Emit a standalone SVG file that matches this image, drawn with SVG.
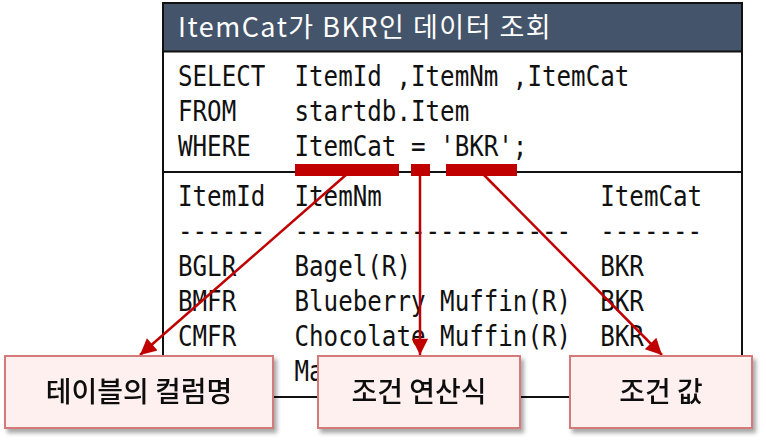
<svg xmlns="http://www.w3.org/2000/svg" width="766" height="442" viewBox="0 0 766 442">
<style>
.mono{font-family:"DejaVu Sans Mono","Liberation Mono",monospace;font-size:28px;fill:#111;white-space:pre}
.title{font-family:"Noto Sans CJK KR","Noto Sans",sans-serif;font-size:27px;letter-spacing:1.5px;fill:#fff}
.lbl{font-family:"Noto Sans CJK KR","Noto Sans",sans-serif;font-size:28px;font-weight:500;fill:#111;text-anchor:middle}
.box{fill:#fff0f0;stroke:#d57a7a;stroke-width:2}
.bar{fill:#c00000}
.arr{stroke:#c00000;stroke-width:2.5;fill:none;marker-end:url(#ah)}
</style>
<defs>
<marker id="ah" viewBox="0 0 10 10" refX="10" refY="5" markerWidth="8" markerHeight="6.5" markerUnits="strokeWidth" orient="auto">
<path d="M0,0 L10,5 L0,10 z" fill="#c00000"/>
</marker>
<filter id="sh" x="-10%" y="-20%" width="130%" height="150%">
<feDropShadow dx="3" dy="4" stdDeviation="2" flood-color="#000" flood-opacity="0.35"/>
</filter>
</defs>
<g id="panel">
<rect x="163" y="3" width="579" height="394" fill="#fff" stroke="#111" stroke-width="2"/>
<rect x="164" y="4" width="577" height="47" fill="#44546a"/>
<line x1="163" y1="51.5" x2="742" y2="51.5" stroke="#111" stroke-width="2"/>
<line x1="163" y1="172" x2="742" y2="172" stroke="#111" stroke-width="2"/>
<text class="title" x="178" y="37">ItemCat가 BKR인 데이터 조회</text>
<g transform="translate(178,0) scale(0.864,1)">
<text class="mono" x="0" y="86" xml:space="preserve">SELECT  ItemId ,ItemNm ,ItemCat</text>
<text class="mono" x="0" y="121" xml:space="preserve">FROM    startdb.Item</text>
<text class="mono" x="0" y="156" xml:space="preserve">WHERE   ItemCat = 'BKR';</text>
<text class="mono" x="0" y="206" xml:space="preserve">ItemId  ItemNm               ItemCat</text>
<text class="mono" x="0" y="241" xml:space="preserve">------  -------------------  -------</text>
<text class="mono" x="0" y="276" xml:space="preserve">BGLR    Bagel(R)             BKR</text>
<text class="mono" x="0" y="311" xml:space="preserve">BMFR    Blueberry Muffin(R)  BKR</text>
<text class="mono" x="0" y="346" xml:space="preserve">CMFR    Chocolate Muffin(R)  BKR</text>
<text class="mono" x="134.85" y="381">Ma</text>
</g>
</g>
<g id="connectors">
<rect class="bar" x="295" y="164" width="104" height="12"/>
<rect class="bar" x="411" y="164" width="19" height="12"/>
<rect class="bar" x="446" y="164" width="71" height="12"/>
<line class="arr" x1="347" y1="174" x2="140" y2="355"/>
<line class="arr" x1="420" y1="174" x2="420" y2="355"/>
<line class="arr" x1="483" y1="174" x2="662" y2="355"/>
</g>
<g id="node-column" filter="url(#sh)">
<rect class="box" x="5" y="356" width="268" height="72"/>
<text class="lbl" x="139" y="402">테이블의 컬럼명</text>
</g>
<g id="node-operator" filter="url(#sh)">
<rect class="box" x="318" y="356" width="202" height="72"/>
<text class="lbl" x="419" y="402">조건 연산식</text>
</g>
<g id="node-value" filter="url(#sh)">
<rect class="box" x="570" y="356" width="182" height="72"/>
<text class="lbl" x="661" y="402">조건 값</text>
</g>
</svg>
